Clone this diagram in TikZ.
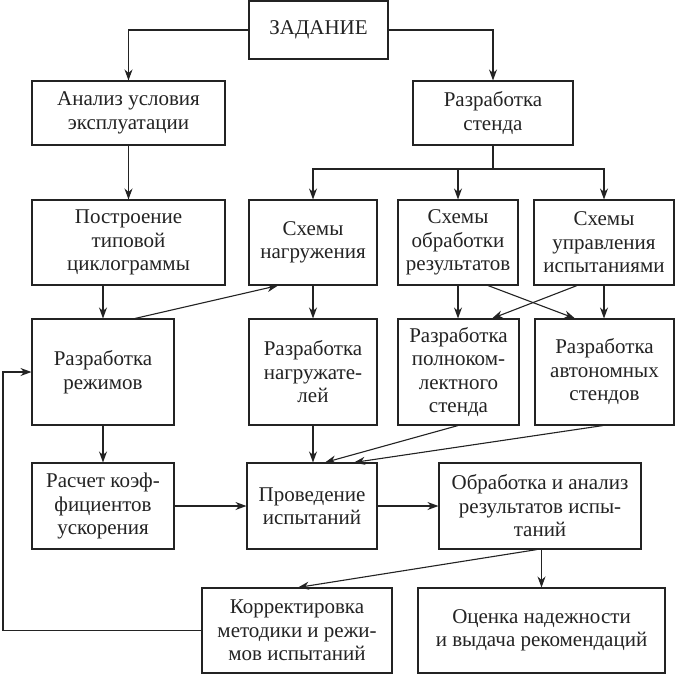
\documentclass[tikz,border=0pt]{standalone}
\usepackage{fontspec}
\setmainfont{Liberation Serif}
\usetikzlibrary{arrows.meta}
\definecolor{ink}{RGB}{35,35,35}
\begin{document}
\begin{tikzpicture}[x=1pt,y=-1pt,
  bx/.style={draw=ink,line width=1.1pt,inner sep=0pt,align=center,text=ink,
    font=\fontsize{21}{23.5}\selectfont},
  arr/.style={draw=ink,line width=1.1pt,-{Stealth[length=11pt,width=8pt]}},
  ln/.style={draw=ink,line width=1.1pt}]
\useasboundingbox[fill=white] (0,0) rectangle (676,675);
% row 0
\node[bx,minimum width=139pt,minimum height=58pt] (zad) at (318.5,30) {ЗАДАНИЕ};
% row 1
\node[bx,minimum width=193pt,minimum height=64pt] (anal) at (128.5,113) {Анализ условия\\эксплуатации};
\node[bx,minimum width=160pt,minimum height=64pt] (rst) at (493,113) {Разработка\\стенда};
% row 2
\node[bx,minimum width=193pt,minimum height=85pt] (post) at (128.5,242.5) {Построение\\типовой\\циклограммы};
\node[bx,minimum width=128pt,minimum height=85pt] (shn) at (313,242.5) {Схемы\\нагружения};
\node[bx,minimum width=120pt,minimum height=85pt] (sho) at (458,242.5) {Схемы\\обработки\\результатов};
\node[bx,minimum width=140pt,minimum height=85pt] (shu) at (604,242.5) {Схемы\\управления\\испытаниями};
% row 3
\node[bx,minimum width=142pt,minimum height=106pt] (rr) at (103,372) {Разработка\\режимов};
\node[bx,minimum width=128pt,minimum height=106pt] (rn) at (313,372) {Разработка\\нагружате-\\лей};
\node[bx,minimum width=121pt,minimum height=106pt] (rp) at (458.5,372) {Разработка\\полноком-\\лектного\\стенда};
\node[bx,minimum width=139pt,minimum height=106pt] (ra) at (604.5,372) {Разработка\\автономных\\стендов};
% row 4
\node[bx,minimum width=142pt,minimum height=86pt] (rk) at (103,506) {Расчет коэф-\\фициентов\\ускорения};
\node[bx,minimum width=130pt,minimum height=86pt] (pi) at (312,506) {Проведение\\испытаний};
\node[bx,minimum width=202pt,minimum height=86pt] (oa) at (540,506) {Обработка и анализ\\результатов испы-\\таний};
% row 5
\node[bx,minimum width=190pt,minimum height=85pt] (kor) at (297,630.5) {Корректировка\\методики и режи-\\мов испытаний};
\node[bx,minimum width=247pt,minimum height=85pt] (ots) at (541.5,630.5) {Оценка надежности\\и выдача рекомендаций};
% helper coordinates
\coordinate (bus) at (493,169);
\coordinate (loop) at (3,630.5);
% connectors
\draw[arr] (zad.west) -| (anal.north);
\draw[arr] (zad.east) -| (rst.north);
\draw[arr] (anal.south) -- (anal.south |- post.north);
\draw[ln] (rst.south) -- (bus);
\draw[arr] (bus) -| (shn.north);
\draw[arr] (bus) -| (shu.north);
\draw[arr] (sho.north |- bus) -- (sho.north);
\draw[arr] (rr.north |- post.south) -- (rr.north);
\draw[arr] (135,0 |- rr.north) -- (278,0 |- shn.south);
\draw[arr] (shn.south) -- (shn.south |- rn.north);
\draw[arr] (sho.south) -- (sho.south |- rp.north);
\draw[arr] (488,0 |- sho.south) -- (575,0 |- ra.north);
\draw[arr] (577,0 |- shu.south) -- (492,0 |- rp.north);
\draw[arr] (shu.south) -- (shu.south |- ra.north);
\draw[arr] (rr.south) -- (rr.south |- rk.north);
\draw[arr] (rn.south) -- (rn.south |- pi.north);
\draw[arr] (458,0 |- rp.south) -- (325,0 |- pi.north);
\draw[arr] (603,0 |- ra.south) -- (354,0 |- pi.north);
\draw[arr] (rk.east) -- (pi.west);
\draw[arr] (pi.east) -- (oa.west);
\draw[arr] (ots.north |- oa.south) -- (ots.north);
\draw[arr] (537,0 |- oa.south) -- (298,0 |- kor.north);
\draw[arr] (kor.west) -- (loop) |- (rr.west);
\end{tikzpicture}
\end{document}
